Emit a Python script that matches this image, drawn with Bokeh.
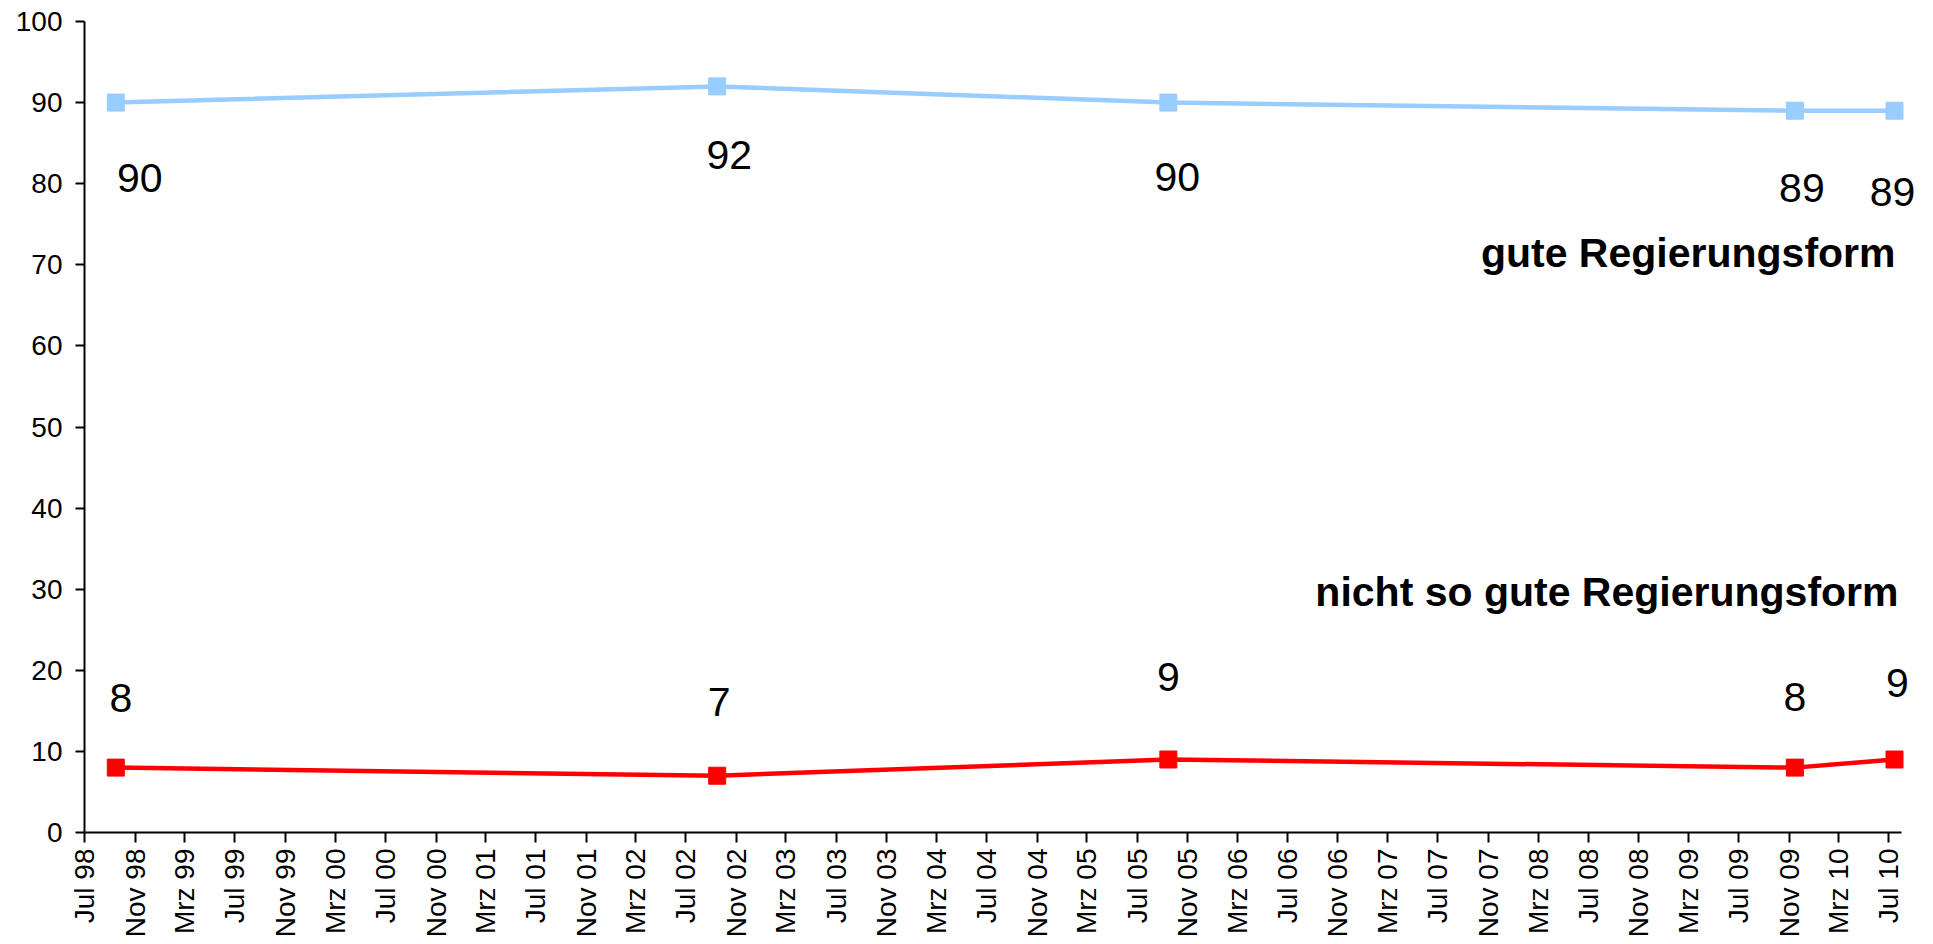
import math
import datetime as dt
from bokeh.plotting import figure
from bokeh.models import ColumnDataSource, Range1d, FixedTicker, LabelSet, Label
from bokeh.core.properties import value
from bokeh.embed import file_html
from bokeh.resources import INLINE

# ---------------- data ----------------
SURVEY_DATES = ["1998-09-15", "2002-09-15", "2005-09-15", "2009-11-15", "2010-07-15"]
GOOD_FORM = [90, 92, 90, 89, 89]            # gute Regierungsform
NOT_SO_GOOD_FORM = [8, 7, 9, 8, 9]          # nicht so gute Regierungsform
SERIES_NAMES = ["gute Regierungsform", "nicht so gute Regierungsform"]

AXIS_START = "1998-07-01"
AXIS_END = "2010-08-01"
TICK_LABELS = [
    "Jul 98", "Nov 98", "Mrz 99", "Jul 99", "Nov 99", "Mrz 00", "Jul 00", "Nov 00",
    "Mrz 01", "Jul 01", "Nov 01", "Mrz 02", "Jul 02", "Nov 02", "Mrz 03", "Jul 03",
    "Nov 03", "Mrz 04", "Jul 04", "Nov 04", "Mrz 05", "Jul 05", "Nov 05", "Mrz 06",
    "Jul 06", "Nov 06", "Mrz 07", "Jul 07", "Nov 07", "Mrz 08", "Jul 08", "Nov 08",
    "Mrz 09", "Jul 09", "Nov 09", "Mrz 10", "Jul 10",
]
Y_TICKS = list(range(0, 101, 10))

# label placement (screen px offsets, style only)
GOOD_LABEL_DX = [24, 12, 9, 7, -2]
GOOD_LABEL_DY = [-75, -69, -74, -77, -81]
BAD_LABEL_DX = [5, 2, 0, 0, 3]
BAD_LABEL_DY = [70, 74, 83, 71, 77]
SERIES_LABEL_Y = [71.4, 29.7]
SERIES_LABEL_DX = [-6, -3]

# ---------------- layout ----------------
FIG_W, FIG_H = 1933, 944
BORDER_L, BORDER_R, BORDER_T, BORDER_B = 84, 12, 21, 112
AXIS_PX = 1817          # pixel length of the drawn x axis (start..end)

ORIGIN = dt.date.fromisoformat(AXIS_START)


def days(d):
    if isinstance(d, str):
        d = dt.date.fromisoformat(d)
    return (d - ORIGIN).days


tick_dates = []
y0, m0 = ORIGIN.year, ORIGIN.month
for i in range(len(TICK_LABELS)):
    m = m0 - 1 + 4 * i
    tick_dates.append(dt.date(y0 + m // 12, m % 12 + 1, 1))
tick_values = [days(d) for d in tick_dates]

xs = [days(d) for d in SURVEY_DATES]

axis_end = days(AXIS_END)
frame_w = FIG_W - BORDER_L - BORDER_R
view_end = axis_end * frame_w / AXIS_PX

FONT = "Liberation Sans"
BLUE = "#99CCFF"
RED = "#FF0000"

p = figure(
    width=FIG_W, height=FIG_H,
    output_backend="svg", toolbar_location=None,
    x_range=Range1d(0, view_end), y_range=Range1d(0, 100),
    min_border_left=BORDER_L, min_border_right=BORDER_R,
    min_border_top=BORDER_T, min_border_bottom=BORDER_B,
    background_fill_color="white", border_fill_color="white",
)
p.outline_line_color = None
p.xgrid.visible = False
p.ygrid.visible = False

for ax in (p.xaxis[0], p.yaxis[0]):
    ax.axis_line_color = "black"
    ax.axis_line_width = 2
    ax.major_tick_line_color = "black"
    ax.major_tick_line_width = 2
    ax.major_tick_in = 0
    ax.minor_tick_line_color = None
    ax.major_label_text_font = FONT
    ax.major_label_text_font_size = "28px"
    ax.major_label_text_color = "black"

p.yaxis.ticker = FixedTicker(ticks=Y_TICKS)
p.yaxis.major_tick_out = 9
p.yaxis.major_label_standoff = 13

p.xaxis.ticker = FixedTicker(ticks=tick_values)
p.xaxis.bounds = (0, axis_end)
p.xaxis.major_label_overrides = {v: lab for v, lab in zip(tick_values, TICK_LABELS)}
p.xaxis.major_tick_out = 10
p.xaxis.major_label_standoff = 6
p.xaxis.major_label_orientation = math.pi / 2

good_src = ColumnDataSource(dict(
    x=xs, y=GOOD_FORM, txt=[str(v) for v in GOOD_FORM],
    dx=GOOD_LABEL_DX, dy=GOOD_LABEL_DY,
))
bad_src = ColumnDataSource(dict(
    x=xs, y=NOT_SO_GOOD_FORM, txt=[str(v) for v in NOT_SO_GOOD_FORM],
    dx=BAD_LABEL_DX, dy=BAD_LABEL_DY,
))

for src, col in ((good_src, BLUE), (bad_src, RED)):
    p.line("x", "y", source=src, line_color=col, line_width=4.5)
    p.scatter("x", "y", source=src, marker="square", size=17,
              fill_color=col, line_color=col)
    p.add_layout(LabelSet(
        x="x", y="y", text="txt", source=src,
        x_offset="dx", y_offset="dy",
        text_align="center", text_baseline="middle",
        text_font=value(FONT), text_font_size=value("41px"), text_color="black",
    ))

for name, ly, ldx in zip(SERIES_NAMES, SERIES_LABEL_Y, SERIES_LABEL_DX):
    p.add_layout(Label(
        x=axis_end, y=ly, x_offset=ldx, text=name,
        text_align="right", text_baseline="middle",
        text_font=FONT, text_font_style="bold", text_font_size="41px",
        text_color="black",
    ))

open("out.html", "w").write(file_html(p, INLINE))
